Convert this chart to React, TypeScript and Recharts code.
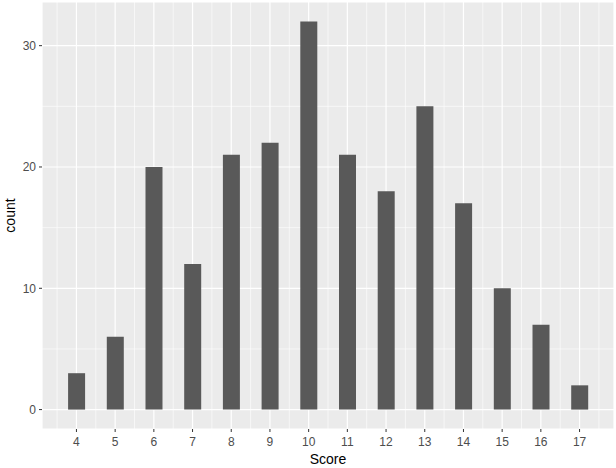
import { BarChart, Bar, XAxis, YAxis, CartesianGrid } from 'recharts';

const scores = [4, 5, 6, 7, 8, 9, 10, 11, 12, 13, 14, 15, 16, 17];
const counts = [3, 6, 20, 12, 21, 22, 32, 21, 18, 25, 17, 10, 7, 2];
const yTicks = [0, 10, 20, 30];
const xMinor = [3.5, 4.5, 5.5, 6.5, 7.5, 8.5, 9.5, 10.5, 11.5, 12.5, 13.5, 14.5, 15.5, 16.5, 17.5];
const yMinor = [5, 15, 25];

const data = scores.map((s, i) => ({ score: s, count: counts[i] }));

const font = 'Liberation Sans, Arial, sans-serif';
const tickStyle = { fontSize: 12, fill: '#4D4D4D', fontFamily: font };

export default function App() {
  return (
    <div style={{ position: 'absolute', left: 0, top: 0, background: '#fff' }}>
      <BarChart width={616} height={468} data={data} margin={{ top: 2, right: 2, left: 0, bottom: 0 }}>
        <CartesianGrid fill="#EBEBEB" stroke="#FFFFFF" strokeWidth={0.6}
          verticalValues={xMinor} horizontalValues={yMinor} />
        <CartesianGrid stroke="#FFFFFF" strokeWidth={1.2} fillOpacity={0} />
        <XAxis
          dataKey="score"
          type="number"
          domain={[3.11, 17.89]}
          ticks={scores}
          allowDataOverflow
          height={39}
          axisLine={false}
          tickSize={3}
          tickLine={{ stroke: '#333333' }}
          tick={tickStyle}
          tickMargin={5}
          interval={0}
          label={{ value: 'Score', position: 'insideBottom', offset: 4, fontSize: 14, fill: '#000', fontFamily: font }}
        />
        <YAxis
          type="number"
          domain={[-1.6, 33.6]}
          ticks={yTicks}
          allowDataOverflow
          width={42}
          axisLine={false}
          tickSize={3}
          tickLine={{ stroke: '#333333' }}
          tick={tickStyle}
          tickMargin={3}
          label={{ value: 'count', angle: -90, position: 'insideLeft', offset: 10, fontSize: 14, fill: '#000', fontFamily: font, style: { textAnchor: 'middle' } }}
        />
        <Bar dataKey="count" fill="#595959" barSize={17} isAnimationActive={false} />
      </BarChart>
    </div>
  );
}
